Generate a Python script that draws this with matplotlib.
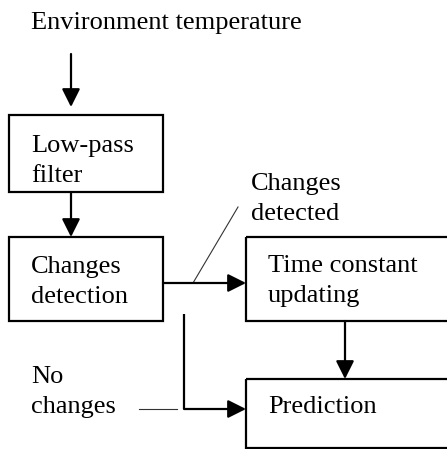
import matplotlib.pyplot as plt
from matplotlib.patches import Rectangle

plt.rcParams['font.family'] = ['Liberation Serif', 'DejaVu Serif']

# block labels (two lines each) and their box corners (x0, y0, x1, y1) in pixels
block_labels = ["Low-pass\nfilter", "Changes\ndetection", "Time constant\nupdating", "Prediction"]
block_boxes = [(9, 115, 163, 192), (9, 237, 163, 321), (246, 237, 460, 321), (246, 379, 460, 448)]
# baseline of first text line inside each box
block_baseline = [152, 273, 272, 413]

# free labels: text, x, baseline y of first line
free_labels = ["Environment temperature", "Changes\ndetected", "No\nchanges"]
free_pos = [(31, 29), (251, 190), (31, 383)]

# arrows: list of polyline points, last point is the arrow tip
arrow_paths = [
    [(71, 54), (71, 107)],
    [(71, 192), (71, 237)],
    [(163, 283), (246, 283)],
    [(345, 321), (345, 379)],
    [(184, 314), (184, 409), (246, 409)],
]
# thin leader lines
leaders = [
    [(238, 207), (193, 283)],
    [(139, 409), (177, 409)],
]

W, H = 447, 449
fig = plt.figure(figsize=(W / 100, H / 100), dpi=100)
ax = fig.add_axes([0, 0, 1, 1])
ax.set_xlim(0, W)
ax.set_ylim(H, 0)
ax.axis('off')

fs = 19
line_gap = 30

for lab, (x0, y0, x1, y1), yb in zip(block_labels, block_boxes, block_baseline):
    ax.add_patch(Rectangle((x0, y0), x1 - x0, y1 - y0, fill=False, lw=1.6, ec='black'))
    for k, line in enumerate(lab.split("\n")):
        ax.text(x0 + 22, yb + k * line_gap, line, fontsize=fs, va='baseline', ha='left')

for lab, (x, y) in zip(free_labels, free_pos):
    for k, line in enumerate(lab.split("\n")):
        ax.text(x, y + k * line_gap, line, fontsize=fs, va='baseline', ha='left')

for path in arrow_paths:
    xs = [p[0] for p in path]
    ys = [p[1] for p in path]
    ax.plot(xs[:-1], ys[:-1], color='black', lw=1.6, solid_capstyle='butt')
    ax.annotate("", xy=path[-1], xytext=path[-2],
                arrowprops=dict(arrowstyle="-|>,head_length=1.1,head_width=0.55",
                                color='black', lw=1.6, shrinkA=0, shrinkB=0))

for path in leaders:
    ax.plot([p[0] for p in path], [p[1] for p in path], color='#333333', lw=0.8)

fig.savefig("out.png", dpi=100)
